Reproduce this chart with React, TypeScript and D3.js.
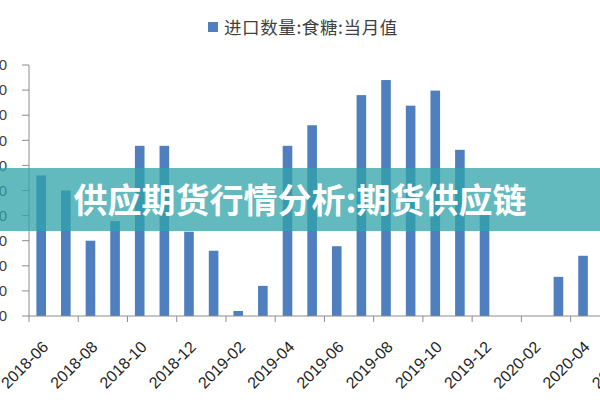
import React from "react";
import * as d3 from "d3";

// monthly categories on the x axis (the last two fall off the right edge)
const months = [
  "2018-06", "2018-07", "2018-08", "2018-09", "2018-10", "2018-11",
  "2018-12", "2019-01", "2019-02", "2019-03", "2019-04", "2019-05",
  "2019-06", "2019-07", "2019-08", "2019-09", "2019-10", "2019-11",
  "2019-12", "2020-01", "2020-02", "2020-03", "2020-04", "2020-05",
  "2020-06",
];

// 进口数量:食糖:当月值
const imports: (number | null)[] = [
  280, 250, 150, 189, 339, 339, 168, 130, 10, 60, 339, 380, 139, 440, 470,
  419, 449, 331, 201, null, null, 78, 120, null, null,
];

const yTicks = [0, 50, 100, 150, 200, 250, 300, 350, 400, 450, 500];

const legendLabel = "进口数量:食糖:当月值";
const bannerText = "供应期货行情分析:期货供应链";

const W = 600;
const H = 400;
const left = 29;
const base = 316;
const top = 65;
const step = 24.62;

const App: React.FC = () => {
  const x = d3
    .scaleBand<string>()
    .domain(months)
    .range([left, left + step * months.length])
    .paddingInner(0.61)
    .paddingOuter(0.3);

  const band = d3
    .scaleBand<string>()
    .domain(months)
    .range([left, left + step * months.length]);

  const y = d3.scaleLinear().domain([0, 500]).range([base, top]);

  const axisColor = "#8c8c8c";
  const labelFont = "'Liberation Sans', Arial, sans-serif";
  const cjkFont = "'Noto Sans CJK SC', 'Noto Sans', sans-serif";

  return (
    <div style={{ position: "fixed", left: 0, top: 0, width: W, height: H, background: "#fff" }}>
      <svg width={W} height={H} style={{ display: "block" }}>
        <rect width={W} height={H} fill="#fff" />

        {/* legend */}
        <rect x={208} y={22} width={10} height={10} fill="#4f7fbe" />
        <text
          x={224}
          y={34}
          fontSize={17.5}
          letterSpacing={0.6}
          fill="#404040"
          fontFamily={cjkFont}
        >
          {legendLabel}
        </text>

        {/* y axis */}
        <line x1={left} x2={left} y1={top} y2={base} stroke={axisColor} />
        {yTicks.map((t) => (
          <g key={t}>
            <line x1={left - 7} x2={left} y1={y(t)} y2={y(t)} stroke={axisColor} />
            <text
              x={7}
              y={y(t)}
              dy="0.35em"
              textAnchor="end"
              fontSize={15}
              fill="#404040"
              fontFamily={labelFont}
            >
              {t}
            </text>
          </g>
        ))}

        {/* bars */}
        {months.map((m, i) =>
          imports[i] == null ? null : (
            <rect
              key={m}
              x={x(m)}
              y={y(imports[i] as number)}
              width={x.bandwidth()}
              height={base - y(imports[i] as number)}
              fill="#4f7fbe"
            />
          )
        )}

        {/* x axis */}
        <line x1={left} x2={left + step * months.length} y1={base} y2={base} stroke={axisColor} />
        {months.map((m, i) =>
          i % 2 === 0 ? (
            <g key={m}>
              <line
                x1={band(m)!}
                x2={band(m)!}
                y1={base}
                y2={base + 6}
                stroke={axisColor}
              />
              <text
                transform={`translate(${band(m)! + band.bandwidth() / 2},${base + 24}) rotate(-45)`}
                textAnchor="end"
                dy="0.7em"
                fontSize={16}
                fill="#1e1e1e"
                fontFamily={labelFont}
              >
                {m}
              </text>
            </g>
          ) : null
        )}

        {/* banner */}
        <rect x={0} y={168} width={W} height={63} fill="rgb(47,163,168)" fillOpacity={0.75} />
        <text
          x={300}
          y={213}
          textAnchor="middle"
          fontSize={34}
          fontWeight={700}
          fill="#fff"
          fontFamily={cjkFont}
        >
          {bannerText}
        </text>
      </svg>
    </div>
  );
};

export default App;
